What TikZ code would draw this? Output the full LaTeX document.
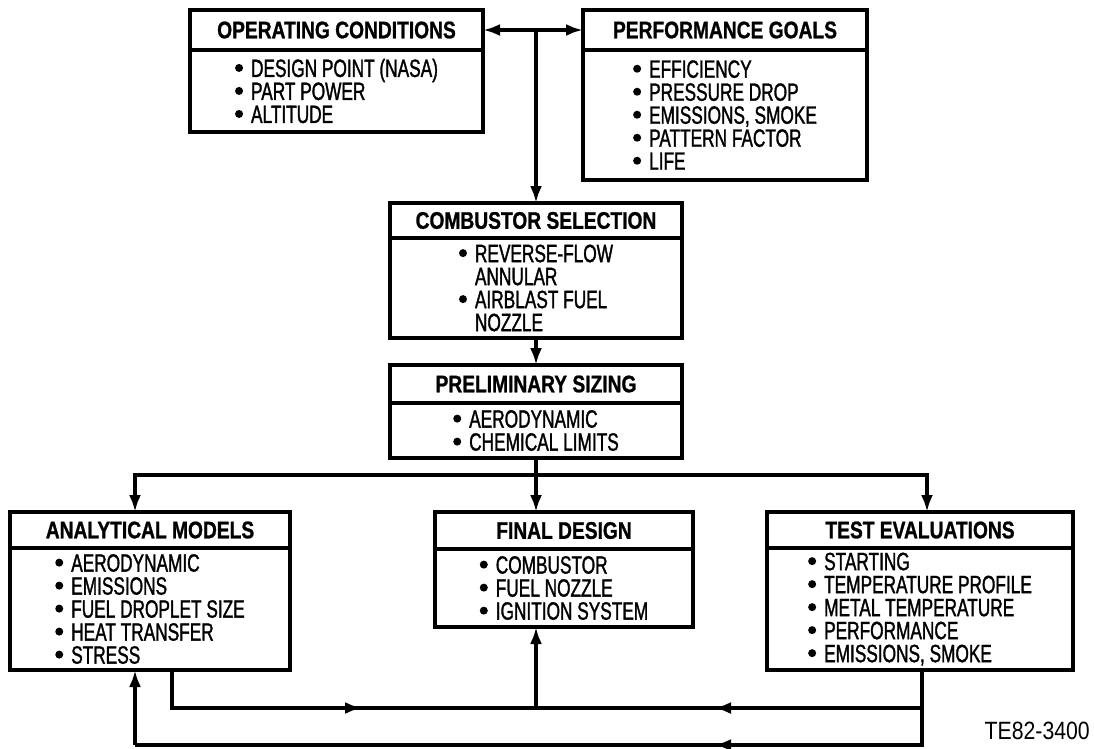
\documentclass[tikz,border=0pt]{standalone}
\usepackage{fontspec}
\newfontfamily\headfont{Liberation Sans}[FakeStretch=0.80, FakeBold=1.0]
\newfontfamily\bodyfont{Liberation Sans}[FakeStretch=0.69, FakeBold=1.3]
\newfontfamily\tagfont{Liberation Sans}[FakeStretch=0.85]
\usepackage{tikz}
\usetikzlibrary{arrows.meta, calc, positioning}
\tikzset{
    boxHead/.style={rectangle, draw, line width=4pt, outer sep=0pt, inner sep=0pt, font=\headfont\bfseries\fontsize{24}{24}\selectfont},
    boxBody/.style={rectangle, draw, line width=4pt, outer sep=0pt, inner sep=0pt, align=left, font=\bodyfont\fontsize{25}{23}\selectfont},
    flowEdge/.style={->, >={Latex[length=17pt, width=12pt]}, line width=3.5pt},
    flowLine/.style={line width=3.5pt},
}
\newcommand{\drawBox}[8]{
    % 标题栏
    \node[boxHead, minimum width=#4pt, minimum height=#5pt, anchor=north] (#1) at (#2, #3) {#7};
    % 内容栏
    \node[boxBody, minimum width=#4pt, minimum height=#6pt, anchor=north] (#1B) at (#1.south) {#8};
}
\newcommand{\bul}{\tikz[baseline={(0pt,-9pt)}]\fill (0pt,0pt) circle[radius=4pt];\hspace{8pt}}
\newcommand{\bulgap}{\hspace{16pt}}

\begin{document}
\begin{tikzpicture}[x=1pt, y=-1pt]
        \useasboundingbox (0, 0) rectangle (1094, 748);

        \drawBox{opcond}{336.5}{10}{293}{40}{82}{OPERATING CONDITIONS}{\bul DESIGN POINT (NASA)\\ \bul PART POWER\\ \bul ALTITUDE}
        \drawBox{perfgoal}{725}{10}{284}{40}{130}{PERFORMANCE GOALS}{\bul EFFICIENCY\\ \bul PRESSURE DROP\\ \bul EMISSIONS, SMOKE\\ \bul PATTERN FACTOR\\ \bul LIFE}
        \drawBox{combsel}{536}{203}{292}{35}{100}{COMBUSTOR SELECTION}{\bul REVERSE-FLOW\\ \bulgap ANNULAR\\ \bul AIRBLAST FUEL\\ \bulgap NOZZLE}
        \drawBox{prelim}{536}{365}{292}{38}{55}{PRELIMINARY SIZING}{\bul AERODYNAMIC\\ \bul CHEMICAL LIMITS}
        \drawBox{anmod}{150}{512}{280}{36}{122}{ANALYTICAL MODELS}{\bul AERODYNAMIC\\ \bul EMISSIONS\\ \bul FUEL DROPLET SIZE\\ \bul HEAT TRANSFER\\ \bul STRESS}
        \drawBox{findes}{564}{512}{258}{37}{78}{FINAL DESIGN}{\bul COMBUSTOR\\ \bul FUEL NOZZLE\\ \bul IGNITION SYSTEM}
        \drawBox{testev}{920}{512}{306}{36}{122}{TEST EVALUATIONS}{\bul STARTING\\ \bul TEMPERATURE PROFILE\\ \bul METAL TEMPERATURE\\ \bul PERFORMANCE\\ \bul EMISSIONS, SMOKE}

        \node[font=\tagfont\fontsize{25}{25}\selectfont, anchor=east, inner sep=0pt] (tag) at (1090, 731) {TE82-3400};

        % 顶部
        \coordinate (split) at (opcond.east -| combsel.north);
        \draw[flowEdge, <->] (opcond.east) -- (perfgoal.west);
        \draw[flowEdge] (split) -- (combsel.north);
        \draw[flowEdge] (combselB.south) -- (prelim.north);

        % 分支
        \coordinate (fork) at (536, 475);
        \coordinate (inL) at (135, 475);
        \coordinate (inR) at (927, 475);
        \draw[flowLine] (prelimB.south) -- (fork);
        \draw[flowEdge] (fork) -- (inL) -- (inL |- anmod.north);
        \draw[flowEdge] (fork) -- (inR) -- (inR |- testev.north);
        \draw[flowEdge] (fork) -- (fork |- findes.north);

        % 反馈
        \coordinate (outA) at (172, 708);
        \coordinate (outT) at (922, 708);
        \coordinate (merge) at (536, 708);
        \coordinate (midA) at (362, 708);
        \coordinate (midT) at (714, 708);
        \coordinate (back) at (922, 745);
        \coordinate (midB) at (714, 745);
        \coordinate (backL) at (135, 745);
        \draw[flowLine] (outA |- anmodB.south) -- (outA) -- (merge);
        \draw[flowEdge] (outA) -- (midA);
        \draw[flowLine] (outT |- testevB.south) -- (outT) -- (merge);
        \draw[flowEdge] (outT) -- (midT);
        \draw[flowEdge] (merge) -- (merge |- findesB.south);
        \draw[flowLine] (outT) -- (back) -- (backL);
        \draw[flowEdge] (back) -- (midB);
        \draw[flowEdge] (backL) -- (backL |- anmodB.south);

\end{tikzpicture}
\end{document}
